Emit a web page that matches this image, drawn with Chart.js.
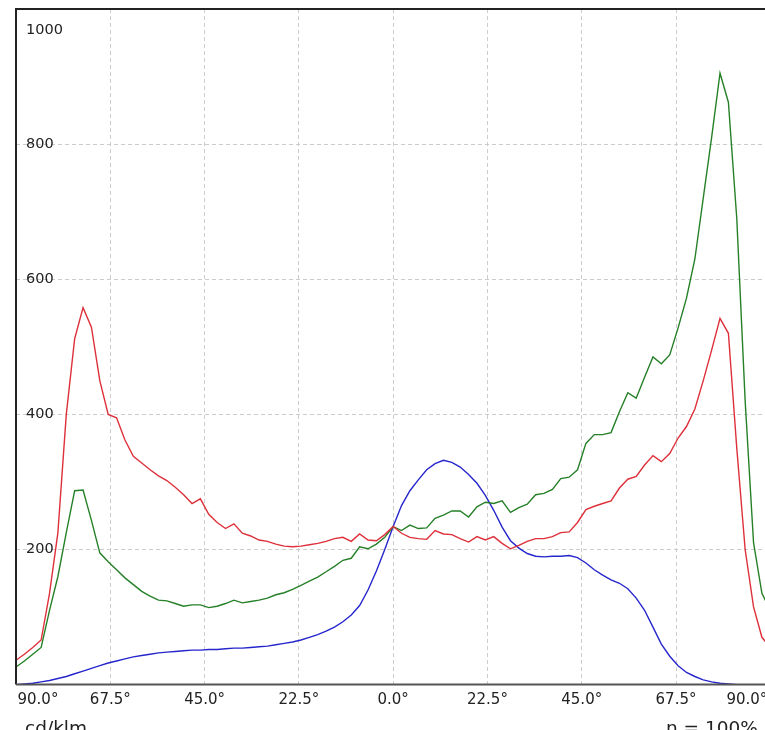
<!DOCTYPE html>
<html>
<head>
<meta charset="utf-8">
<script src="https://cdn.jsdelivr.net/npm/chart.js@4/dist/chart.umd.min.js"></script>
<style>
  html, body { margin: 0; padding: 0; background: #ffffff; overflow: hidden; }
  canvas { display: block; }
</style>
</head>
<body>
<canvas id="c" width="780" height="730"></canvas>
<script>
// Polar angle of each sample (degrees), left half shown as negative
const angles = [
  -90,-88,-86,-84,-82,-80,-78,-76,-74,-72,
  -70,-68,-66,-64,-62,-60,-58,-56,-54,-52,
  -50,-48,-46,-44,-42,-40,-38,-36,-34,-32,
  -30,-28,-26,-24,-22,-20,-18,-16,-14,-12,
  -10,-8,-6,-4,-2,0,
  2,4,6,8,10,12,14,16,18,20,
  22,24,26,28,30,32,34,36,38,40,
  42,44,46,48,50,52,54,56,58,60,
  62,64,66,68,70,72,74,76,78,80,
  82,84,86,88,90
];

// Luminous intensity, cd/klm
const redCurve = [
  36,45,55,66,135,225,400,512,558,529,
  450,400,395,362,338,328,318,309,302,292,
  281,268,275,252,240,231,238,224,220,214,
  212,208,205,204,205,207,209,212,216,218,
  212,223,214,213,222,234,
  224,218,216,215,228,223,222,216,211,219,
  214,219,209,201,206,212,216,216,219,225,
  226,240,259,264,268,272,291,304,308,325,
  339,330,342,365,382,408,450,495,542,520,
  350,200,115,70,55
];
const greenCurve = [
  26,35,45,55,110,160,225,287,288,243,
  195,182,170,158,148,138,131,125,124,120,
  116,118,118,114,116,120,125,121,123,125,
  128,133,136,141,147,153,159,167,175,184,
  187,204,201,208,218,234,
  228,236,231,232,246,251,257,257,248,263,
  270,268,272,255,262,267,281,283,289,305,
  307,318,357,370,370,373,404,432,424,455,
  485,475,488,528,572,630,720,810,905,862,
  690,420,210,135,110
];
const blueCurve = [
  0,1,2,4,6,9,12,16,20,24,
  28,32,35,38,41,43,45,47,48,49,
  50,51,51,52,52,53,54,54,55,56,
  57,59,61,63,66,70,74,79,85,93,
  103,117,140,168,200,234,
  265,287,303,318,327,332,329,322,311,298,
  280,258,233,213,202,194,190,189,190,190,
  191,188,180,170,162,155,150,142,128,110,
  85,60,42,28,18,12,7,4,2,1,
  0,0,0,0,0
];

// Axis ticks and their texts
const xTickValues = [-90, -67.5, -45, -22.5, 0, 22.5, 45, 67.5, 90];
const xTickLabels = ['90.0°', '67.5°', '45.0°', '22.5°', '0.0°', '22.5°', '45.0°', '67.5°', '90.0°'];
const yTickValues = [200, 400, 600, 800, 1000];
const yTickLabels = ['200', '400', '600', '800', '1000'];
const unitLabel = 'cd/klm';
const efficiencyLabel = 'η = 100%';

const FONT = '"DejaVu Sans", Verdana, sans-serif';

function points(values) {
  return angles.map((a, i) => ({ x: a, y: values[i] }));
}

function lineSet(values, color) {
  return {
    data: points(values),
    borderColor: color,
    borderWidth: 1.4,
    pointRadius: 0,
    tension: 0,
    fill: false
  };
}

// Frame, tick texts and footer texts
const decorations = {
  id: 'decorations',
  afterDraw(chart) {
    const { ctx, chartArea: area, scales } = chart;
    const xs = scales.x, ys = scales.y;
    ctx.save();

    // frame
    ctx.lineWidth = 2;
    ctx.strokeStyle = '#222222';
    ctx.beginPath();
    ctx.moveTo(area.left, area.bottom);
    ctx.lineTo(area.left, area.top);
    ctx.lineTo(area.right, area.top);
    ctx.lineTo(area.right, area.bottom);
    ctx.stroke();
    ctx.strokeStyle = '#555555';
    ctx.beginPath();
    ctx.moveTo(area.left, area.bottom);
    ctx.lineTo(area.right, area.bottom);
    ctx.stroke();

    // y labels inside the plot
    ctx.fillStyle = '#222222';
    ctx.font = '14.5px ' + FONT;
    ctx.textAlign = 'left';
    ctx.textBaseline = 'middle';
    yTickValues.forEach((v, i) => {
      let py = ys.getPixelForValue(v);
      if (py < area.top + 15) py = area.top + 21;
      ctx.fillText(yTickLabels[i], area.left + 10, py);
    });

    // x labels under the axis
    ctx.font = '15px ' + FONT;
    xTickValues.forEach((v, i) => {
      const px = xs.getPixelForValue(v);
      if (i === 0) {
        ctx.textAlign = 'left';
        ctx.fillText(xTickLabels[i], area.left + 1.5, area.bottom + 16);
      } else if (i === xTickValues.length - 1) {
        ctx.textAlign = 'right';
        ctx.fillText(xTickLabels[i], area.right - 3, area.bottom + 16);
      } else {
        ctx.textAlign = 'center';
        ctx.fillText(xTickLabels[i], px, area.bottom + 16);
      }
    });

    // footer texts
    ctx.font = '18.5px ' + FONT;
    ctx.textBaseline = 'alphabetic';
    ctx.textAlign = 'left';
    ctx.fillText(unitLabel, 25, 734);
    ctx.fillText(efficiencyLabel, 666, 734);

    ctx.restore();
  }
};

new Chart(document.getElementById('c'), {
  type: 'line',
  data: {
    datasets: [
      lineSet(redCurve, 'rgb(222,48,58)'),
      lineSet(greenCurve, 'rgb(38,128,40)'),
      lineSet(blueCurve, 'rgb(38,38,205)')
    ]
  },
  options: {
    responsive: false,
    animation: false,
    devicePixelRatio: 1,
    layout: { padding: { left: 16, top: 9, right: 9.7, bottom: 45.4 } },
    plugins: { legend: { display: false }, tooltip: { enabled: false } },
    scales: {
      x: {
        type: 'linear',
        min: -90,
        max: 90,
        ticks: { display: false, stepSize: 22.5 },
        afterBuildTicks(scale) { scale.ticks = xTickValues.map(v => ({ value: v })); },
        grid: {
          drawTicks: false,
          lineWidth: 1,
          color: c => (c.tick && Math.abs(c.tick.value) === 90) ? 'rgba(0,0,0,0)' : '#cccccc'
        },
        border: { display: false, dash: [4, 3] }
      },
      y: {
        min: 0,
        max: 1000,
        ticks: { display: false, stepSize: 200 },
        grid: {
          drawTicks: false,
          lineWidth: 1,
          color: c => (c.tick && (c.tick.value === 0 || c.tick.value === 1000)) ? 'rgba(0,0,0,0)' : '#cccccc'
        },
        border: { display: false, dash: [4, 3] }
      }
    }
  },
  plugins: [decorations]
});
</script>
</body>
</html>
